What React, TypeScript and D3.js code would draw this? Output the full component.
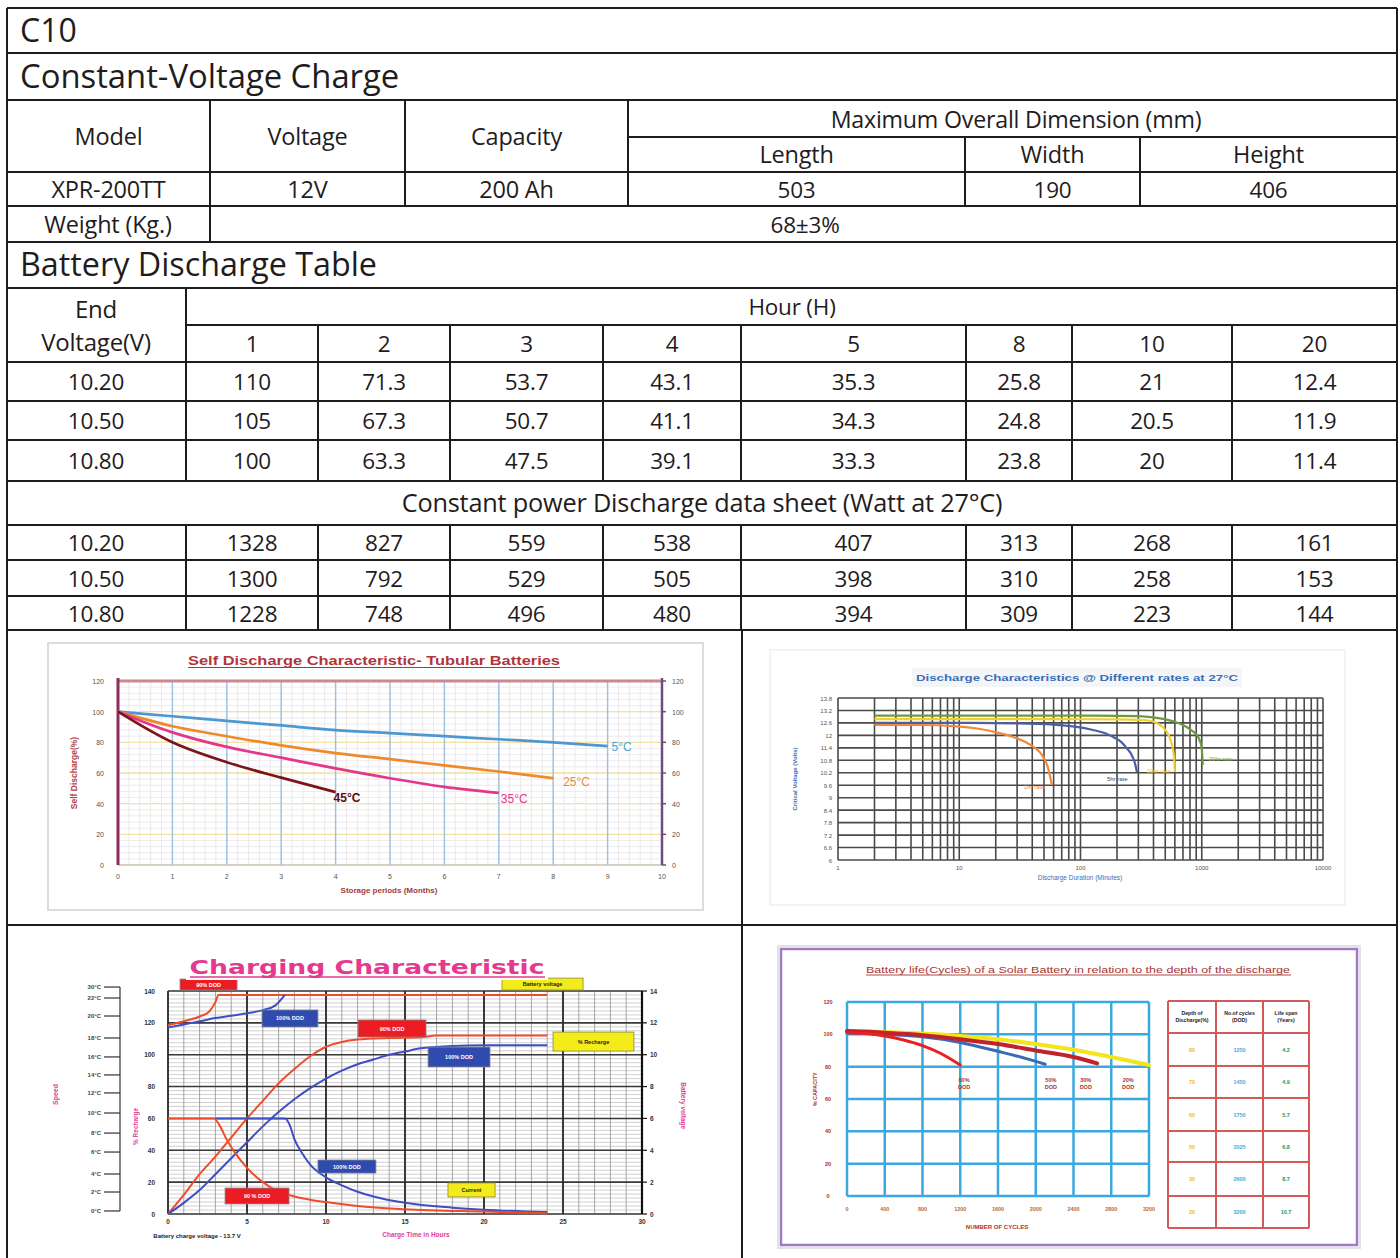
import React from 'react';
import * as d3 from 'd3';

// ---------------- DATA ----------------
const titleCode = 'C10';
const chargeTitle = 'Constant-Voltage Charge';
const specHeaders = ['Model', 'Voltage', 'Capacity'];
const dimHeader = 'Maximum Overall Dimension (mm)';
const dimSubHeaders = ['Length', 'Width', 'Height'];
const specValues = ['XPR-200TT', '12V', '200 Ah'];
const dimValues = ['503', '190', '406'];
const weightLabel = 'Weight (Kg.)';
const weightValue = '68±3%';
const dischargeTitle = 'Battery Discharge Table';
const endVoltageLabel = ['End', 'Voltage(V)'];
const hourLabel = 'Hour (H)';
const hours = ['1', '2', '3', '4', '5', '8', '10', '20'];
const endVoltages = ['10.20', '10.50', '10.80'];
const currentRows = [
  ['110', '71.3', '53.7', '43.1', '35.3', '25.8', '21', '12.4'],
  ['105', '67.3', '50.7', '41.1', '34.3', '24.8', '20.5', '11.9'],
  ['100', '63.3', '47.5', '39.1', '33.3', '23.8', '20', '11.4'],
];
const powerTitle = 'Constant power Discharge data sheet (Watt at 27°C)';
const powerRows = [
  ['1328', '827', '559', '538', '407', '313', '268', '161'],
  ['1300', '792', '529', '505', '398', '310', '258', '153'],
  ['1228', '748', '496', '480', '394', '309', '223', '144'],
];

// Self discharge (months -> % capacity)
const sdTitle = 'Self Discharge Characteristic- Tubular Batteries';
const sdXLabel = 'Storage periods (Months)';
const sdYLabel = 'Self Discharge(%)';
const sdMonths = [0, 1, 2, 3, 4, 5, 6, 7, 8, 9];
const sd5C = [100, 97, 94, 91, 88, 86, 84, 82, 80, 77.5];
const sd25C = [100, 90.5, 84, 78, 73, 69, 65, 61, 56.6];
const sd35C = [100, 86.5, 77, 70, 63, 56.6, 51, 47];
const sd45C = [100, 80, 67, 57, 47.5];
const sdLabels = ['5°C', '25°C', '35°C', '45°C'];
const sdTicksX = [0, 1, 2, 3, 4, 5, 6, 7, 8, 9, 10];
const sdTicksY = [0, 20, 40, 60, 80, 100, 120];

// Discharge characteristics (minutes -> volts)
const dcTitle = 'Discharge Characteristics @ Different rates at 27°C';
const dcXLabel = 'Discharge Duration (Minutes)';
const dcYLabel = 'Critical Voltage (Volts)';
const dc1hrMin = [2, 5, 9, 14, 20, 27, 35, 42, 48, 54, 58];
const dc1hrV = [12.5, 12.5, 12.45, 12.33, 12.16, 11.95, 11.68, 11.4, 11.06, 10.43, 9.61];
const dc5hrMin = [2, 10, 30, 60, 90, 127, 160, 186, 215, 240, 262, 280, 292];
const dc5hrV = [12.6, 12.6, 12.58, 12.52, 12.42, 12.26, 12.1, 11.92, 11.7, 11.39, 11.1, 10.7, 10.24];
const dc10hrMin = [2, 50, 200, 330, 400, 453, 510, 546, 575, 592, 600];
const dc10hrV = [12.78, 12.78, 12.77, 12.74, 12.66, 12.5, 12.2, 11.87, 11.4, 10.9, 10.24];
const dc20hrMin = [2, 100, 300, 453, 580, 700, 820, 910, 970, 1000, 1020];
const dc20hrV = [12.95, 12.95, 12.93, 12.82, 12.68, 12.5, 12.25, 12.02, 11.7, 11.39, 10.57];
const dcLabels = ['1hr rate', '5hr rate', '10hr rate', '20hr rate'];
const dcTicksY = [6, 6.6, 7.2, 7.8, 8.4, 9, 9.6, 10.2, 10.8, 11.4, 12, 12.6, 13.2, 13.8];
const dcTicksX = [1, 10, 100, 1000, 10000];

// Charging characteristic (hours -> %, V)
const chTitle = 'Charging Characteristic';
const chXLabel = 'Charge Time in Hours';
const chNote = 'Battery charge voltage - 13.7 V';
const chYLabel = '% Recharge';
const chY2Label = 'Battery voltage';
const chTempLabel = 'Speed';
const chTicksX = [0, 5, 10, 15, 20, 25, 30];
const chTicksY = [0, 20, 40, 60, 80, 100, 120, 140];
const chTicksV = [0, 2, 4, 6, 8, 10, 12, 14];
const chTempTicks = ['30°C', '22°C', '20°C', '18°C', '16°C', '14°C', '12°C', '10°C', '8°C', '6°C', '4°C', '2°C', '0°C'];
const chTempPos = [142.5, 135.6, 124.3, 110.5, 98.6, 87.3, 76, 63.4, 50.8, 38.9, 25.1, 13.8, 1.9];
// red = 90% DOD, blue = 100% DOD
const chVoltRedH = [0, 1, 2, 2.6, 3.0, 3.2, 24];
const chVoltRed = [11.85, 12.1, 12.4, 12.7, 13.3, 13.75, 13.75];
const chVoltBlueH = [0, 1, 2, 3, 4, 5, 6, 6.8, 7.4];
const chVoltBlue = [11.7, 11.9, 12.1, 12.3, 12.45, 12.6, 12.8, 13.1, 13.75];
const chRechRedH = [0, 1, 2, 3, 4, 5, 6, 7, 8, 9, 10, 11, 12, 14, 16, 17, 24];
const chRechRed = [0, 12, 25, 36, 48, 60, 71, 82, 91, 99, 105, 108, 109.5, 110.5, 111, 112, 112];
const chRechBlueH = [0, 1, 2, 3, 4, 5, 6, 7, 8, 9, 10, 11, 12, 13, 14, 15, 16, 18, 20, 24];
const chRechBlue = [0, 7, 15, 25, 35, 45, 55, 64, 72, 79, 85, 90, 94, 97, 100, 102, 104, 105.5, 106, 106];
const chCurRedH = [0, 2.9, 3.3, 3.7, 4.2, 5, 6, 7, 8, 9, 10, 12, 15, 20, 24];
const chCurRed = [60, 60, 55, 47, 39, 29, 20, 14, 11, 9, 7.5, 5, 3, 1.5, 0.5];
const chCurBlueH = [3, 7.4, 7.7, 8, 8.5, 9, 10, 11, 12, 13, 15, 18, 20, 24];
const chCurBlue = [60, 60, 56, 47, 38, 31, 23, 18, 14, 11, 7, 4, 2.7, 1.2];
const chBoxText = ['90% DOD', '100% DOD', '90% DOD', '100% DOD', '% Recharge', 'Battery voltage', '100% DOD', '90 % DOD', 'Current'];
const chBoxKind = ['red', 'blue', 'red', 'blue', 'yellow', 'yellow', 'blue', 'red', 'yellow'];
// [h0, h1, pTop, pBottom] in chart units
const chBoxArea = [
  [0.76, 4.37, 147.5, 140.6],
  [5.95, 9.49, 128.1, 117.4],
  [12.03, 16.33, 121.8, 111.1],
  [16.46, 20.38, 104.8, 92.3],
  [24.37, 29.49, 114.2, 102.3],
  [21.14, 26.27, 148.1, 140.6],
  [9.49, 13.16, 33.9, 25.7],
  [3.61, 7.66, 16.3, 6.3],
  [17.72, 20.7, 19.5, 10.7],
];

// Cycle life (cycles -> % capacity)
const clTitle = 'Battery life(Cycles) of a Solar Battery in relation to the depth of the discharge';
const clXLabel = 'NUMBER OF CYCLES';
const clYLabel = '% CAPACITY';
const clTicksX = [0, 400, 800, 1200, 1600, 2000, 2400, 2800, 3200];
const clTicksY = [0, 20, 40, 60, 80, 100, 120];
const clYellowC = [0, 400, 800, 1200, 1600, 2000, 2400, 2800, 3200];
const clYellow = [102, 101.5, 100.5, 99, 97, 94, 90.5, 86, 81];
const clDarkC = [0, 400, 800, 1200, 1600, 2000, 2400, 2650];
const clDark = [102, 101, 99.5, 97, 94, 90, 86, 82];
const clBlueC = [0, 400, 800, 1200, 1600, 1900, 2100];
const clBlue = [101, 100, 98.5, 95, 89.5, 85, 81.5];
const clRedC = [0, 200, 400, 600, 800, 1000, 1200];
const clRed = [101, 100.5, 99, 96.5, 93, 88, 81];
const clDodLabels = ['80%', '50%', '30%', '20%'];
const clTableHead = [['Depth of', 'Discharge(%)'], ['No.of cycles', '(DOD)'], ['Life span', '(Years)']];
const clTableDod = ['80', '70', '60', '50', '30', '20'];
const clTableCycles = ['1250', '1450', '1750', '2025', '2600', '3200'];
const clTableLife = ['4.2', '4.9', '5.7', '6.8', '8.7', '10.7'];

// ---------------- HELPERS ----------------
const INK = '#1f1c1d';
const TF = "'Open Sans', 'Noto Sans', sans-serif";
const CF = "'Liberation Sans', Arial, sans-serif";
const zip = (a: number[], b: number[]) => a.map((v, i) => [v, b[i]] as [number, number]);

function Cell({ x, y, t, size = 22.5, anchor = 'middle' }: any) {
  return (
    <text x={x} y={y} fontSize={size} fontFamily={TF} fill={INK} textAnchor={anchor} dominantBaseline="central" letterSpacing={-0.2}>
      {t}
    </text>
  );
}

// ---------------- TABLE ----------------
function SpecTable() {
  const L = 7, R = 1397;
  const hLines = [8, 53, 100, 172, 206, 242, 288, 362, 401, 440, 481, 525, 560, 596, 630, 925];
  const specCols = [7, 210, 405, 628];
  const dimCols = [628, 965, 1140, 1397];
  const dCols = [186, 318, 450, 603, 741, 966, 1072, 1232, 1397];
  const cRowY = [362, 401, 440, 481];
  const pRowY = [525, 560, 596, 630];
  const lines: any[] = [];
  hLines.forEach((y) => lines.push([L, y, R, y]));
  lines.push([628, 137, R, 137]);
  lines.push([186, 325, R, 325]);
  [210, 405, 628].forEach((x) => lines.push([x, 100, x, x === 210 ? 242 : 206]));
  [965, 1140].forEach((x) => lines.push([x, 137, x, 206]));
  lines.push([186, 288, 186, 481]);
  lines.push([186, 525, 186, 630]);
  dCols.slice(1, -1).forEach((x) => {
    lines.push([x, 325, x, 481]);
    lines.push([x, 525, x, 630]);
  });
  lines.push([742, 630, 742, 1258]);
  lines.push([L, 8, L, 1258]);
  lines.push([R, 8, R, 1258]);
  const mid = (a: number, b: number) => (a + b) / 2;
  return (
    <g>
      {lines.map((l, i) => (
        <line key={i} x1={l[0]} y1={l[1]} x2={l[2]} y2={l[3]} stroke={INK} strokeWidth={2} />
      ))}
      <text x={20} y={42} fontSize={32} fontFamily={TF} fill={INK}>{titleCode}</text>
      <text x={20} y={88} fontSize={32.8} fontFamily={TF} fill={INK}>{chargeTitle}</text>
      {specHeaders.map((t, i) => (
        <Cell key={'sh' + i} x={mid(specCols[i], specCols[i + 1])} y={136} t={t} size={23.5} />
      ))}
      <Cell x={1016} y={119} t={dimHeader} size={23.2} />
      {dimSubHeaders.map((t, i) => (
        <Cell key={'dh' + i} x={mid(dimCols[i], dimCols[i + 1])} y={154} t={t} size={23.5} />
      ))}
      {specValues.map((t, i) => (
        <Cell key={'sv' + i} x={mid(specCols[i], specCols[i + 1])} y={189} t={t} size={23.5} />
      ))}
      {dimValues.map((t, i) => (
        <Cell key={'dv' + i} x={mid(dimCols[i], dimCols[i + 1])} y={189} t={t} />
      ))}
      <Cell x={108} y={224} t={weightLabel} size={23.5} />
      <Cell x={805} y={224} t={weightValue} />
      <text x={20} y={276} fontSize={32.3} fontFamily={TF} fill={INK}>{dischargeTitle}</text>
      <Cell x={96} y={308} t={endVoltageLabel[0]} size={24} />
      <Cell x={96} y={341} t={endVoltageLabel[1]} size={24} />
      <Cell x={792} y={306} t={hourLabel} />
      {hours.map((t, i) => (
        <Cell key={'h' + i} x={mid(dCols[i], dCols[i + 1])} y={343} t={t} />
      ))}
      {currentRows.map((row, r) => (
        <g key={'cr' + r}>
          <Cell x={96} y={mid(cRowY[r], cRowY[r + 1])} t={endVoltages[r]} />
          {row.map((t, i) => (
            <Cell key={i} x={mid(dCols[i], dCols[i + 1])} y={mid(cRowY[r], cRowY[r + 1])} t={t} />
          ))}
        </g>
      ))}
      <Cell x={702} y={502} t={powerTitle} size={25.3} />
      {powerRows.map((row, r) => (
        <g key={'pr' + r}>
          <Cell x={96} y={mid(pRowY[r], pRowY[r + 1])} t={endVoltages[r]} />
          {row.map((t, i) => (
            <Cell key={i} x={mid(dCols[i], dCols[i + 1])} y={mid(pRowY[r], pRowY[r + 1])} t={t} />
          ))}
        </g>
      ))}
    </g>
  );
}

// ---------------- SELF DISCHARGE ----------------
function SelfDischarge() {
  const x = d3.scaleLinear().domain([0, 10]).range([118, 662]);
  const y = d3.scaleLinear().domain([0, 120]).range([865, 681]);
  const line = d3.line<[number, number]>().x((d) => x(d[0])).y((d) => y(d[1])).curve(d3.curveMonotoneX);
  const series = [sd5C, sd25C, sd35C, sd45C];
  const colors = ['#4f97cf', '#f0892c', '#e3378b', '#7d1518'];
  const labelColors = ['#3fa6d6', '#ee8a34', '#e3378b', '#5a0e10'];
  const labelOff = [[4, 5], [10, 8], [2, 10], [-2, 10]];
  const minorX = d3.range(0, 10.001, 0.2);
  const minorY = d3.range(0, 120.001, 4);
  return (
    <g fontFamily={CF}>
      <rect x={48} y={643} width={655} height={267} fill="#fff" stroke="#dcdcdc" strokeWidth={2} />
      <text x={374} y={665} textAnchor="middle" fontSize={12.5} fontWeight="bold" fill="#b2353a" textLength={372} lengthAdjust="spacingAndGlyphs">{sdTitle}</text>
      <line x1={188} x2={560} y1={667.5} y2={667.5} stroke="#b2353a" strokeWidth={1.2} />
      {minorX.map((v, i) => (
        <line key={'mx' + i} x1={x(v)} x2={x(v)} y1={y(120)} y2={y(0)} stroke="#e4e4ea" strokeWidth={0.8} />
      ))}
      {minorY.map((v, i) => (
        <line key={'my' + i} x1={x(0)} x2={x(10)} y1={y(v)} y2={y(v)} stroke="#e6e6ec" strokeWidth={0.8} />
      ))}
      {sdTicksY.map((v) => (
        <line key={'gy' + v} x1={x(0)} x2={x(10)} y1={y(v)} y2={y(v)} stroke="#f2e2a6" strokeWidth={1.3} />
      ))}
      {sdTicksX.map((v) => (
        <line key={'gx' + v} x1={x(v)} x2={x(v)} y1={y(120)} y2={y(0)} stroke="#9dbfe0" strokeWidth={1.4} />
      ))}
      <line x1={x(0)} x2={x(10)} y1={y(120)} y2={y(120)} stroke="#c98a8e" strokeWidth={3} />
      <line x1={x(0)} x2={x(10)} y1={y(0)} y2={y(0)} stroke="#b9b9c6" strokeWidth={1} />
      <line x1={x(0)} x2={x(0)} y1={y(120) - 3} y2={y(0)} stroke="#8d2d5e" strokeWidth={3} />
      <line x1={x(10)} x2={x(10)} y1={y(120) - 3} y2={y(0)} stroke="#6e4c7e" strokeWidth={2.5} />
      {sdTicksY.map((v) => (
        <g key={'ty' + v}>
          <text x={104} y={y(v) + 3} textAnchor="end" fontSize={7} fill="#555">{v}</text>
          <line x1={x(10)} x2={x(10) + 4} y1={y(v)} y2={y(v)} stroke="#6e4c7e" strokeWidth={1.5} />
          <text x={672} y={y(v) + 3} fontSize={7} fill="#555">{v}</text>
        </g>
      ))}
      {sdTicksX.map((v) => (
        <text key={'tx' + v} x={x(v)} y={879} textAnchor="middle" fontSize={7} fill="#555">{v}</text>
      ))}
      {series.map((s, i) => (
        <path key={'s' + i} d={line(zip(sdMonths.slice(0, s.length), s)) || ''} fill="none" stroke={colors[i]} strokeWidth={2.7} />
      ))}
      {series.map((s, i) => {
        const last = s.length - 1;
        return (
          <text key={'l' + i} x={x(sdMonths[last]) + labelOff[i][0]} y={y(s[last]) + labelOff[i][1]} fontSize={12} fill={labelColors[i]} fontWeight={i === 3 ? 'bold' : 'normal'}>
            {sdLabels[i]}
          </text>
        );
      })}
      <text transform={`translate(77,${y(60)}) rotate(-90)`} textAnchor="middle" fontSize={8.5} fontWeight="bold" fill="#b04548">{sdYLabel}</text>
      <text x={389} y={893} textAnchor="middle" fontSize={8} fontWeight="bold" fill="#a33b3b">{sdXLabel}</text>
    </g>
  );
}

// ---------------- DISCHARGE CHARACTERISTICS ----------------
function DischargeChar() {
  const x = d3.scaleLog().domain([1, 10000]).range([838, 1323]);
  const y = d3.scaleLinear().domain([6, 13.8]).range([860, 698]);
  const line = d3.line<[number, number]>().x((d) => x(d[0])).y((d) => y(d[1])).curve(d3.curveMonotoneX);
  const vLines: number[] = [];
  [1, 10, 100, 1000].forEach((dec) => d3.range(1, 10).forEach((n) => vLines.push(n * dec)));
  vLines.push(10000);
  const series = [zip(dc1hrMin, dc1hrV), zip(dc5hrMin, dc5hrV), zip(dc10hrMin, dc10hrV), zip(dc20hrMin, dc20hrV)];
  const colors = ['#ef8a3c', '#4a5fa8', '#f3cf2c', '#6e9a3e'];
  const labelColors = ['#ef8a3c', '#2e3f86', '#e8c21f', '#7aa84a'];
  const labelOff = [[-28, 4], [-30, 9], [-28, 1], [6, -4]];
  const drawOrder = [3, 2, 1, 0];
  return (
    <g fontFamily={CF}>
      <rect x={770} y={650} width={575} height={255} fill="#fff" stroke="#efefef" strokeWidth={1.5} />
      <rect x={912} y={668} width={330} height={19} fill="#f3f5f8" />
      <text x={1077} y={681} textAnchor="middle" fontSize={9.5} fontWeight="bold" fill="#3b6eb4" textLength={322} lengthAdjust="spacingAndGlyphs">{dcTitle}</text>
      {dcTicksY.map((v) => (
        <line key={'h' + v} x1={x(1)} x2={x(10000)} y1={y(v)} y2={y(v)} stroke="#4a4a4a" strokeWidth={1.6} />
      ))}
      {vLines.map((v) => (
        <line key={'v' + v} x1={x(v)} x2={x(v)} y1={y(13.8)} y2={y(6)} stroke="#4a4a4a" strokeWidth={1.6} />
      ))}
      {dcTicksY.map((v) => (
        <text key={'ty' + v} x={832} y={y(v) + 2.5} textAnchor="end" fontSize={6} fill="#555">{v}</text>
      ))}
      {dcTicksX.map((v) => (
        <text key={'tx' + v} x={x(v)} y={870} textAnchor="middle" fontSize={6} fill="#555">{v}</text>
      ))}
      {drawOrder.map((i) => (
        <path key={'s' + i} d={line(series[i]) || ''} fill="none" stroke={colors[i]} strokeWidth={2.2} />
      ))}
      {series.map((s, i) => {
        const e = s[s.length - 1];
        return (
          <text key={'l' + i} x={x(e[0]) + labelOff[i][0]} y={y(e[1]) + labelOff[i][1]} fontSize={6} fill={labelColors[i]}>{dcLabels[i]}</text>
        );
      })}
      <text transform={`translate(797,${y(9.9)}) rotate(-90)`} textAnchor="middle" fontSize={6} fontWeight="bold" fill="#3b6eb4">{dcYLabel}</text>
      <text x={1080} y={880} textAnchor="middle" fontSize={6.5} fill="#3b6eb4">{dcXLabel}</text>
    </g>
  );
}

// ---------------- CHARGING CHARACTERISTIC ----------------
function Charging() {
  const x = d3.scaleLinear().domain([0, 30]).range([168, 642]);
  const y = d3.scaleLinear().domain([0, 140]).range([1214, 991]);
  const yV = d3.scaleLinear().domain([0, 14]).range([1214, 991]);
  const lineP = d3.line<[number, number]>().x((d) => x(d[0])).y((d) => y(d[1])).curve(d3.curveMonotoneX);
  const lineV = d3.line<[number, number]>().x((d) => x(d[0])).y((d) => yV(d[1])).curve(d3.curveMonotoneX);
  const RED = '#f04b2a';
  const BLUE = '#3d4fc2';
  const boxFill: any = { red: '#ec1c24', blue: '#2f4bb0', yellow: '#f4ec1a' };
  const boxText: any = { red: '#fff', blue: '#fff', yellow: '#222' };
  return (
    <g fontFamily={CF}>
      {d3.range(0, 140.01, 2.5).map((v, i) => (
        <line key={'mh' + i} x1={x(0)} x2={x(30)} y1={y(v)} y2={y(v)} stroke="#c4c4c4" strokeWidth={0.8} />
      ))}
      {d3.range(0, 31, 1).map((v) => (
        <line key={'mv' + v} x1={x(v)} x2={x(v)} y1={y(140)} y2={y(0)} stroke="#9a9a9a" strokeWidth={0.9} />
      ))}
      {chTicksY.map((v) => (
        <line key={'Mh' + v} x1={x(0)} x2={x(30)} y1={y(v)} y2={y(v)} stroke="#3a3a3a" strokeWidth={1.6} />
      ))}
      {chTicksX.map((v) => (
        <line key={'Mv' + v} x1={x(v)} x2={x(v)} y1={y(140)} y2={y(0)} stroke="#2a2a2a" strokeWidth={1.8} />
      ))}
      <line x1={x(30)} x2={x(30)} y1={y(140)} y2={y(0)} stroke="#111" strokeWidth={2.2} />
      {chTicksY.map((v) => (
        <text key={'ty' + v} x={155} y={y(v) + 2.5} textAnchor="end" fontSize={6.5} fontWeight="bold" fill="#333">{v}</text>
      ))}
      {chTicksV.map((v) => (
        <g key={'tv' + v}>
          <line x1={x(30)} x2={x(30) + 5} y1={yV(v)} y2={yV(v)} stroke="#111" strokeWidth={1.2} />
          <text x={650} y={yV(v) + 2.5} fontSize={6.5} fontWeight="bold" fill="#333">{v}</text>
        </g>
      ))}
      {chTicksX.map((v) => (
        <text key={'tx' + v} x={x(v)} y={1224} textAnchor="middle" fontSize={6.5} fontWeight="bold" fill="#333">{v}</text>
      ))}
      {/* temperature scale */}
      <line x1={120} x2={120} y1={y(142.5)} y2={y(1.9)} stroke="#333" strokeWidth={1.2} />
      {chTempTicks.map((t, i) => (
        <g key={'tt' + i}>
          <line x1={104} x2={120} y1={y(chTempPos[i])} y2={y(chTempPos[i])} stroke="#333" strokeWidth={1.2} />
          <text x={101} y={y(chTempPos[i]) + 2.2} textAnchor="end" fontSize={6} fontWeight="bold" fill="#444">{t}</text>
        </g>
      ))}
      <text transform={`translate(58,${y(75)}) rotate(-90)`} textAnchor="middle" fontSize={7} fontWeight="bold" fill="#e0409a">{chTempLabel}</text>
      <text transform={`translate(138,${y(55)}) rotate(-90)`} textAnchor="middle" fontSize={6.5} fontWeight="bold" fill="#e0409a">{chYLabel}</text>
      <text transform={`translate(681,${y(68)}) rotate(90)`} textAnchor="middle" fontSize={6.5} fontWeight="bold" fill="#e0409a">{chY2Label}</text>
      {/* curves */}
      <path d={lineV(zip(chVoltRedH, chVoltRed)) || ''} fill="none" stroke={RED} strokeWidth={2} />
      <path d={lineV(zip(chVoltBlueH, chVoltBlue)) || ''} fill="none" stroke={BLUE} strokeWidth={2} />
      <path d={lineP(zip(chRechRedH, chRechRed)) || ''} fill="none" stroke={RED} strokeWidth={2} />
      <path d={lineP(zip(chRechBlueH, chRechBlue)) || ''} fill="none" stroke={BLUE} strokeWidth={2} />
      <path d={lineP(zip(chCurBlueH, chCurBlue)) || ''} fill="none" stroke={BLUE} strokeWidth={2} />
      <path d={lineP(zip(chCurRedH, chCurRed)) || ''} fill="none" stroke={RED} strokeWidth={2} />
      {/* annotation boxes */}
      {chBoxArea.map((b, i) => {
        const k = chBoxKind[i];
        const x0 = x(b[0]), x1 = x(b[1]), y0 = y(b[2]), y1 = y(b[3]);
        return (
          <g key={'b' + i}>
            <rect x={x0} y={y0} width={x1 - x0} height={y1 - y0} fill={boxFill[k]} stroke={k === 'yellow' ? '#8a8a3a' : '#888'} strokeWidth={0.8} />
            <text x={(x0 + x1) / 2} y={(y0 + y1) / 2 + 2} textAnchor="middle" fontSize={5.5} fontWeight="bold" fill={boxText[k]}>{chBoxText[i]}</text>
          </g>
        );
      })}
      {/* title */}
      <rect x={186} y={954} width={362} height={26} fill="#fff" />
      <text x={367} y={974} textAnchor="middle" fontSize={19} fontWeight="bold" fill="#e5388f" fontFamily="'DejaVu Sans', sans-serif" textLength={355} lengthAdjust="spacingAndGlyphs">{chTitle}</text>
      <line x1={190} x2={545} y1={977} y2={977} stroke="#e5388f" strokeWidth={1.5} />
      <text x={197} y={1238} textAnchor="middle" fontSize={6} fontWeight="bold" fill="#222">{chNote}</text>
      <text x={416} y={1237} textAnchor="middle" fontSize={6.5} fontWeight="bold" fill="#e0409a">{chXLabel}</text>
    </g>
  );
}

// ---------------- CYCLE LIFE ----------------
function CycleLife() {
  const x = d3.scaleLinear().domain([0, 3200]).range([847, 1149]);
  const y = d3.scaleLinear().domain([0, 120]).range([1196, 1002]);
  const line = d3.line<[number, number]>().x((d) => x(d[0])).y((d) => y(d[1])).curve(d3.curveMonotoneX);
  const series = [zip(clYellowC, clYellow), zip(clBlueC, clBlue), zip(clDarkC, clDark), zip(clRedC, clRed)];
  const colors = ['#f2e51c', '#3c69b6', '#c0232b', '#e8201f'];
  const widths = [4, 3, 4, 3];
  const labelAt = [[1240, 80], [2160, 80], [2530, 80], [2980, 80]];
  const tCols = [1168, 1216, 1263, 1309];
  const tRows = [1001, 1033, 1066, 1098, 1131, 1162, 1196, 1228];
  const tColors = ['#efb636', '#4aa8d8', '#2b9a46'];
  const tData = [clTableDod, clTableCycles, clTableLife];
  return (
    <g fontFamily={CF}>
      <rect x={778} y={946} width={582} height={302} fill="none" stroke="#e2e2e2" strokeWidth={2} />
      <rect x={781} y={949} width={576} height={296} fill="#fff" stroke="#9f78c6" strokeWidth={2.5} />
      <text x={1078} y={973} textAnchor="middle" fontSize={8.5} fill="#a8332e" textLength={424} lengthAdjust="spacingAndGlyphs">{clTitle}</text>
      <line x1={866} x2={1291} y1={975} y2={975} stroke="#a8332e" strokeWidth={0.9} />
      {clTicksY.map((v) => (
        <line key={'h' + v} x1={x(0)} x2={x(3200)} y1={y(v)} y2={y(v)} stroke="#3aa9e0" strokeWidth={2.5} />
      ))}
      {clTicksX.map((v) => (
        <line key={'v' + v} x1={x(v)} x2={x(v)} y1={y(120)} y2={y(0)} stroke="#3aa9e0" strokeWidth={2.5} />
      ))}
      {series.map((s, i) => (
        <path key={'s2' + i} d={line(s) || ''} fill="none" stroke={colors[i]} strokeWidth={widths[i]} strokeLinecap="round" />
      ))}
      {clDodLabels.map((t, i) => (
        <g key={'dl' + i} fontSize={5.5} fontWeight="bold" fill="#a8332e" textAnchor="middle">
          <text x={x(labelAt[i][0])} y={y(labelAt[i][1]) + 15}>{t}</text>
          <text x={x(labelAt[i][0])} y={y(labelAt[i][1]) + 22}>DOD</text>
        </g>
      ))}
      {clTicksY.map((v) => (
        <text key={'ty' + v} x={828} y={y(v) + 2} textAnchor="middle" fontSize={5.5} fontWeight="bold" fill="#a8332e">{v}</text>
      ))}
      {clTicksX.map((v) => (
        <text key={'tx' + v} x={x(v)} y={1211} textAnchor="middle" fontSize={5.5} fontWeight="bold" fill="#c06a2e">{v}</text>
      ))}
      <text transform={`translate(817,${y(66)}) rotate(-90)`} textAnchor="middle" fontSize={5.5} fontWeight="bold" fill="#a8332e">{clYLabel}</text>
      <text x={997} y={1229} textAnchor="middle" fontSize={6} fontWeight="bold" fill="#a8332e">{clXLabel}</text>
      {tRows.map((r) => (
        <line key={'tr' + r} x1={tCols[0]} x2={tCols[3]} y1={r} y2={r} stroke="#d25a5a" strokeWidth={2} />
      ))}
      {tCols.map((c) => (
        <line key={'tc' + c} x1={c} x2={c} y1={tRows[0]} y2={tRows[7]} stroke="#d25a5a" strokeWidth={2} />
      ))}
      {clTableHead.map((h, i) => (
        <g key={'th' + i} fontSize={5.2} fontWeight="bold" fill="#222" textAnchor="middle">
          <text x={(tCols[i] + tCols[i + 1]) / 2} y={1015}>{h[0]}</text>
          <text x={(tCols[i] + tCols[i + 1]) / 2} y={1022}>{h[1]}</text>
        </g>
      ))}
      {tData.map((col, c) =>
        col.map((t, r) => (
          <text key={'td' + c + '-' + r} x={(tCols[c] + tCols[c + 1]) / 2} y={(tRows[r + 1] + tRows[r + 2]) / 2 + 2} textAnchor="middle" fontSize={5.5} fontWeight="bold" fill={tColors[c]}>{t}</text>
        ))
      )}
    </g>
  );
}

export default function App() {
  return (
    <div style={{ position: 'absolute', left: 0, top: 0, width: 1400, height: 1258 }}>
      <svg width={1400} height={1258} viewBox="0 0 1400 1258" style={{ display: 'block' }}>
        <rect x={0} y={0} width={1400} height={1258} fill="#fff" />
        <SelfDischarge />
        <DischargeChar />
        <Charging />
        <CycleLife />
        <SpecTable />
      </svg>
    </div>
  );
}
